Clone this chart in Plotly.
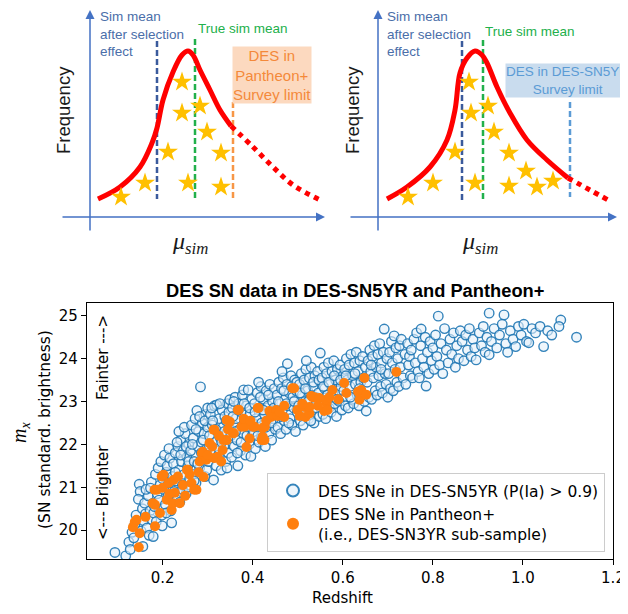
import plotly.graph_objects as go

# ---------------- Scatter data ----------------
sn5yr_z = [
 0.094,0.118,0.125,0.132,0.138,0.128,0.141,0.136,
 0.148,0.150,0.146,0.155,0.158,0.152,0.160,0.162,0.165,0.168,0.170,0.172,0.175,0.176,0.178,0.180,0.156,0.163,0.173,0.179,
 0.182,0.184,0.186,0.188,0.190,0.192,0.194,0.196,0.198,0.200,0.202,0.204,0.206,0.208,0.210,0.212,0.214,0.216,0.218,0.220,0.222,0.214,0.199,0.208,
 0.224,0.226,0.228,0.230,0.232,0.234,0.236,0.238,0.240,0.242,0.244,0.246,0.248,0.250,0.252,0.254,0.256,0.258,0.260,0.236,0.244,0.252,0.228,0.240,0.248,0.256,0.232,0.258,
 0.262,0.264,0.266,0.268,0.270,0.272,0.274,0.276,0.278,0.280,0.282,0.284,0.286,0.288,0.290,0.292,0.294,0.296,0.298,0.300,0.266,0.270,0.274,0.278,0.282,0.286,0.290,0.294,0.298,0.300,
 0.302,0.304,0.306,0.308,0.310,0.313,0.315,0.317,0.319,0.320,0.322,0.324,0.326,0.328,0.330,0.332,0.334,0.336,0.338,0.340,0.342,0.344,0.346,0.348,0.349,0.304,0.311,0.318,0.325,0.331,0.337,0.343,0.347,0.309,0.327,0.341,
 0.351,0.353,0.355,0.357,0.359,0.361,0.363,0.365,0.367,0.369,0.371,0.373,0.375,0.377,0.379,0.380,0.382,0.384,0.386,0.388,0.390,0.392,0.394,0.396,0.398,0.400,0.356,0.362,0.368,0.374,0.381,0.387,0.393,0.399,0.358,0.366,
 0.402,0.404,0.406,0.408,0.410,0.412,0.414,0.416,0.418,0.420,0.422,0.424,0.426,0.428,0.430,0.432,0.434,0.436,0.438,0.440,0.442,0.444,0.446,0.448,0.450,0.405,0.411,0.417,0.423,0.429,0.435,0.441,0.447,0.413,
 0.452,0.454,0.456,0.458,0.460,0.462,0.464,0.466,0.468,0.470,0.472,0.474,0.476,0.477,0.479,0.481,0.483,0.485,0.487,0.489,0.491,0.493,0.495,0.497,0.499,0.457,0.463,0.469,0.475,0.480,0.486,0.492,0.498,0.465,
 0.502,0.504,0.506,0.508,0.510,0.512,0.514,0.516,0.518,0.520,0.522,0.524,0.526,0.528,0.530,0.532,0.534,0.536,0.538,0.540,0.542,0.544,0.546,0.548,0.550,0.505,0.511,0.517,0.523,0.529,0.535,0.541,0.547,0.519,
 0.552,0.554,0.556,0.558,0.560,0.562,0.564,0.566,0.568,0.570,0.572,0.574,0.576,0.578,0.580,0.582,0.584,0.586,0.588,0.590,0.592,0.594,0.596,0.598,0.600,0.557,0.563,0.569,0.575,0.581,0.587,0.595,
 0.602,0.604,0.606,0.608,0.610,0.612,0.614,0.616,0.618,0.620,0.622,0.624,0.626,0.628,0.630,0.632,0.634,0.636,0.638,0.640,0.642,0.644,0.646,0.648,0.650,0.652,0.607,0.617,0.627,0.637,
 0.654,0.656,0.658,0.660,0.662,0.664,0.666,0.668,0.670,0.672,0.674,0.676,0.678,0.680,0.682,0.684,0.686,0.688,0.690,0.692,0.694,0.696,0.698,0.700,0.663,0.685,
 0.702,0.704,0.706,0.708,0.710,0.712,0.714,0.716,0.718,0.720,0.722,0.724,0.726,0.728,0.730,0.734,0.738,0.740,0.744,0.746,0.748,0.750,
 0.752,0.755,0.758,0.761,0.764,0.767,0.770,0.773,0.774,0.777,0.780,0.783,0.785,0.788,0.791,0.794,0.797,0.800,
 0.803,0.806,0.809,0.812,0.815,0.818,0.822,0.826,0.830,0.834,0.838,0.842,0.846,0.850,
 0.853,0.857,0.861,0.865,0.869,0.873,0.877,0.881,0.885,0.889,0.893,0.896,
 0.903,0.908,0.912,0.916,0.920,0.925,0.925,0.930,0.936,0.942,0.948,0.954,0.958,0.962,0.966,0.972,
 0.978,0.984,0.990,0.996,1.002,1.008,1.013,1.020,1.028,1.038,1.046,1.055,1.064,1.084,1.080,1.119,
]
sn5yr_mx = [
 19.48,19.40,19.72,19.95,20.12,19.55,20.35,19.82,
 21.07,20.90,20.72,20.50,20.22,19.98,20.63,20.38,20.05,20.80,19.88,20.45,21.12,20.25,20.62,20.40,19.62,20.95,20.98,19.85,
 20.55,21.30,20.20,20.85,21.45,20.70,21.05,21.60,20.35,21.20,20.95,21.75,20.60,21.35,21.50,20.80,21.10,21.68,20.45,20.17,21.25,21.90,20.10,20.40,
 21.55,20.90,21.80,21.15,20.70,21.95,21.40,20.65,22.10,21.60,21.05,21.85,21.30,22.25,20.85,21.70,21.50,22.00,21.20,22.30,20.95,21.95,21.35,21.75,22.40,21.00,22.05,21.60,
 21.85,22.45,21.30,22.15,21.60,22.60,21.10,22.79,21.95,22.30,21.45,23.34,22.05,22.50,21.70,22.25,21.25,22.70,21.90,22.40,22.00,21.15,22.35,21.55,22.65,21.80,22.10,22.55,21.40,22.85,
 21.60,22.20,22.70,21.85,22.45,21.17,22.90,22.05,21.50,22.92,22.30,21.75,22.60,22.15,21.40,22.80,22.40,21.95,22.65,21.60,22.25,22.95,21.80,22.50,23.04,21.95,22.55,22.35,21.90,22.05,22.30,21.45,22.75,22.85,22.95,22.55,
 22.20,21.70,22.85,22.45,21.95,23.10,22.60,22.10,21.50,22.95,22.35,21.85,22.75,23.15,22.25,23.27,22.55,21.75,22.90,22.40,23.27,22.00,22.70,21.72,23.05,22.50,22.65,22.30,22.80,22.05,22.95,22.20,22.85,22.20,23.00,21.80,
 22.30,22.95,21.90,22.60,23.20,22.40,22.05,22.85,23.35,22.50,22.15,23.05,22.70,21.95,23.25,22.55,22.90,22.25,23.40,22.75,22.10,23.00,22.60,23.30,22.35,22.75,22.20,23.10,22.80,22.40,23.15,22.50,22.85,23.45,
 22.70,23.15,22.40,23.45,22.95,22.25,23.30,22.80,23.55,22.55,23.05,22.35,23.40,23.88,22.90,23.20,22.60,23.60,22.45,23.10,22.85,23.50,22.30,23.25,22.75,23.00,22.65,23.25,22.95,22.50,23.35,23.00,23.45,23.70,
 22.90,23.40,22.55,23.65,23.15,22.45,23.50,23.00,23.75,22.70,23.25,22.60,23.55,23.05,23.80,22.80,23.35,22.50,23.60,23.10,22.85,23.70,23.20,22.65,24.13,23.20,22.75,23.30,23.00,22.55,23.45,22.95,23.50,23.95,
 23.05,23.55,22.70,23.80,23.30,22.60,23.65,23.15,23.90,22.85,23.40,22.75,23.70,23.20,23.95,22.95,23.50,22.65,23.75,23.25,23.00,23.85,23.35,22.80,23.60,23.35,22.90,23.45,23.10,23.60,23.05,23.50,
 23.25,23.75,22.90,24.00,23.50,22.85,23.85,23.35,24.10,23.05,23.60,22.95,23.90,23.40,24.15,23.15,23.70,22.90,23.95,23.45,23.20,24.05,23.55,23.00,23.80,22.78,23.60,23.10,23.65,23.30,
 23.45,23.95,23.10,24.20,23.70,23.05,24.05,23.55,24.30,23.25,23.80,23.15,24.10,23.60,24.35,23.35,23.90,23.20,24.15,24.69,23.65,23.40,24.00,23.10,23.85,23.75,
 23.65,24.15,23.30,24.40,23.90,23.25,24.53,23.75,24.25,23.45,24.00,23.35,24.30,23.80,24.45,23.55,24.10,23.40,24.35,23.85,24.05,23.60,
 24.20,23.55,24.45,23.90,24.60,23.70,23.55,24.30,24.69,24.00,23.80,24.50,23.36,24.15,23.65,24.40,23.95,24.25,
 23.75,24.55,24.05,24.99,23.85,24.35,23.65,24.70,24.20,23.90,24.45,24.10,24.60,23.80,
 24.30,24.00,24.65,24.40,23.95,24.55,24.20,24.70,24.05,24.45,24.25,23.97,
 24.60,24.30,24.75,24.15,24.50,25.06,24.09,24.40,24.70,24.25,24.55,24.80,25.02,24.35,24.15,24.65,
 24.45,24.28,24.75,24.55,24.80,24.40,24.37,24.70,24.60,24.75,24.28,24.65,24.55,24.90,24.75,24.50,
]

pantheon_z = [
 0.134,0.138,0.142,0.147,0.149,0.162,0.178,0.182,0.183,0.183,0.187,0.194,0.198,0.200,0.202,0.209,0.213,0.220,0.222,0.224,
 0.227,0.234,0.238,0.254,0.256,0.264,0.270,0.275,0.282,0.287,0.289,0.291,0.297,0.304,0.313,0.315,0.315,0.322,0.333,0.335,
 0.342,0.342,0.349,0.356,0.358,0.367,0.369,0.375,0.382,0.386,0.393,0.400,0.404,0.411,0.413,0.420,0.422,0.422,0.426,0.427,
 0.437,0.441,0.452,0.455,0.470,0.488,0.492,0.499,0.504,0.515,0.517,0.526,0.526,0.530,0.533,0.537,0.548,0.559,0.564,0.564,
 0.566,0.577,0.603,0.608,0.634,0.637,0.641,0.648,0.652,0.719,
 0.215,0.245,0.260,0.300,0.310,0.325,0.345,0.330,0.250,0.280,0.380,0.395,0.430,0.460,0.470,0.510,0.545,0.570,0.590,
]
pantheon_mx = [
 20.07,20.19,20.24,19.60,19.93,20.31,20.63,20.94,20.09,20.59,20.94,20.40,21.25,20.99,21.29,20.71,21.10,20.47,20.63,21.17,
 20.87,21.25,20.63,21.41,21.41,21.10,20.94,20.94,21.60,21.79,21.83,21.24,21.64,22.03,22.34,21.68,22.34,21.71,21.87,22.10,
 22.10,22.57,22.53,22.26,22.26,22.80,22.81,22.41,22.41,21.94,22.14,22.41,22.41,22.85,22.85,22.10,22.18,22.38,22.10,22.41,
 22.78,22.64,22.80,22.66,22.64,23.31,23.31,22.80,22.66,22.87,22.64,22.72,22.87,23.13,23.10,23.10,23.08,22.78,22.97,23.04,
 22.80,23.27,23.43,23.20,23.23,23.04,23.27,23.55,23.16,23.69,
 20.85,21.05,21.30,21.75,21.95,22.20,22.35,21.60,20.80,21.35,22.60,22.55,22.55,22.75,22.90,22.95,22.90,23.10,23.05,
]

x_ticks = [0.2, 0.4, 0.6, 0.8, 1.0, 1.2]
y_ticks = [20, 21, 22, 23, 24, 25]
legend_names = ["DES SNe in DES-SN5YR (P(Ia) > 0.9)",
                "DES SNe in Pantheon+<br>(i.e., DES-SN3YR sub-sample)"]

# ---------------- Schematic panels (sketch coordinates) ----------------
left_curve_x = [98, 120, 140, 152, 157, 163, 173, 182, 188, 193, 200, 210, 220, 231]
left_curve_y = [199, 187, 167, 143, 128, 100, 72, 55, 51, 55, 70, 90, 110, 126]
left_tail_x = [231, 253, 273, 293, 320]
left_tail_y = [126, 147, 167, 185, 200]
left_stars_x = [121, 145, 168, 182, 182, 188, 200, 207, 221, 221]
left_stars_y = [197, 183, 152, 82, 113, 183, 106, 132, 153, 187]
left_lines = {"sel": (157, 41, 199), "true": (195, 39, 200), "limit": (233, 102, 199)}

right_curve_x = [387, 407, 430, 447, 455, 460, 467, 475, 482, 487, 497, 510, 527, 547, 568]
right_curve_y = [199, 187, 167, 140, 110, 73, 58, 51, 55, 63, 87, 113, 140, 160, 178]
right_tail_x = [568, 590, 608]
right_tail_y = [178, 190, 200]
right_stars_x = [408, 433, 455, 469, 471, 475, 488, 494, 509, 509, 526, 537, 553]
right_stars_y = [197, 183, 152, 82, 113, 183, 106, 132, 153, 186, 171, 187, 181]
right_lines = {"sel": (462, 41, 200), "true": (483, 40, 200), "limit": (570, 102, 197)}

line_colors = {"sel": "#3a5a9c", "true": "#22b04b", "limit_l": "#f79646", "limit_r": "#5b9bd5"}

# page has an 8px body margin: draw a slightly smaller figure and offset coordinates
OFF = 8
W, H = 628 - OFF, 614 - OFF

fig = go.Figure()

for cx, cy, tx, ty, sx, sy, lines, lim in [
    (left_curve_x, left_curve_y, left_tail_x, left_tail_y, left_stars_x, left_stars_y, left_lines, "limit_l"),
    (right_curve_x, right_curve_y, right_tail_x, right_tail_y, right_stars_x, right_stars_y, right_lines, "limit_r"),
]:
    for key, (lx, y0, y1) in lines.items():
        col = line_colors[lim] if key == "limit" else line_colors[key]
        fig.add_trace(go.Scatter(x=[lx, lx], y=[y0, y1], mode="lines", xaxis="x2", yaxis="y2",
                                 line=dict(color=col, width=2.5, dash="6px,3px"),
                                 showlegend=False, hoverinfo="skip"))
    fig.add_trace(go.Scatter(x=cx, y=cy, mode="lines", xaxis="x2", yaxis="y2",
                             line=dict(color="#ff0000", width=5, shape="spline"),
                             showlegend=False, hoverinfo="skip"))
    fig.add_trace(go.Scatter(x=tx, y=ty, mode="lines", xaxis="x2", yaxis="y2",
                             line=dict(color="#ff0000", width=5, dash="5px,5px", shape="spline"),
                             showlegend=False, hoverinfo="skip"))
    fig.add_trace(go.Scatter(x=sx, y=sy, mode="markers", xaxis="x2", yaxis="y2",
                             marker=dict(symbol="star", size=15, color="#ffc000", line=dict(width=0)),
                             showlegend=False, hoverinfo="skip"))

fig.add_trace(go.Scatter(x=sn5yr_z, y=sn5yr_mx, mode="markers", name=legend_names[0],
                         marker=dict(symbol="circle", size=9.5, color="rgba(228,240,250,0.6)",
                                     line=dict(color="rgba(31,119,180,0.9)", width=1.4))))
fig.add_trace(go.Scatter(x=pantheon_z, y=pantheon_mx, mode="markers", name=legend_names[1],
                         marker=dict(symbol="circle", size=10, color="#ff7f0e", line=dict(width=0))))

ann = []
axis_blue = "#4472c4"
for (hx, hy, tx0, ty0) in [(90, 10, 90, 232), (325, 217, 61, 217), (378, 10, 378, 232), (617, 217, 349, 217)]:
    ann.append(dict(x=hx, y=hy, ax=tx0, ay=ty0, xref="x2", yref="y2", axref="x2", ayref="y2",
                    text="", showarrow=True, arrowhead=2, arrowsize=1.2, arrowwidth=1.5,
                    arrowcolor=axis_blue, standoff=0, startstandoff=0))
for fx, mx in [(63, 190), (352, 480)]:
    ann.append(dict(x=fx, y=110, xref="x2", yref="y2", xanchor="center", yanchor="middle",
                    text="Frequency", textangle=-90, showarrow=False,
                    font=dict(family="Liberation Sans", size=18.5, color="#1a1a1a")))
    ann.append(dict(x=mx, y=243, xref="x2", yref="y2", xanchor="center", yanchor="middle",
                    text="<i>μ<sub>sim</sub></i>", showarrow=False,
                    font=dict(family="Liberation Serif", size=24, color="#1a1a1a")))
for sx0 in [99, 386]:
    ann.append(dict(x=sx0, y=8, xref="x2", yref="y2", xanchor="left", yanchor="top", align="left",
                    text="Sim mean<br>after selection<br>effect", showarrow=False, borderpad=0,
                    font=dict(family="Liberation Sans", size=13.5, color="#4a6ea9")))
ann.append(dict(x=196, y=28, xref="x2", yref="y2", xanchor="left", yanchor="middle",
                text="True sim mean", showarrow=False,
                font=dict(family="Liberation Sans", size=13.5, color="#22b04b")))
ann.append(dict(x=483, y=31, xref="x2", yref="y2", xanchor="left", yanchor="middle",
                text="True sim mean", showarrow=False,
                font=dict(family="Liberation Sans", size=13.5, color="#22b04b")))
ann.append(dict(x=272, y=75, xref="x2", yref="y2", xanchor="center", yanchor="middle",
                text="DES in<br>Pantheon+<br>Survey limit", showarrow=False,
                bgcolor="#fcd9bf", borderpad=0,
                font=dict(family="Liberation Sans", size=15, color="#f4893a")))
ann.append(dict(x=567, y=80, xref="x2", yref="y2", xanchor="center", yanchor="middle",
                text="DES in DES-SN5YR<br>Survey limit", showarrow=False,
                bgcolor="#c9dcee", borderpad=0,
                font=dict(family="Liberation Sans", size=13.5, color="#5b9bd5")))


def paper_text(px, py, text, font, angle=0):
    return dict(x=(px - OFF) / W, y=(614 - py) / H, xref="paper", yref="paper", showarrow=False,
                xanchor="center", yanchor="middle", textangle=angle, text=text, font=font)


ann.append(paper_text(355, 290, "<b>DES SN data in DES-SN5YR and Pantheon+</b>",
                      dict(family="Liberation Sans", size=18.3, color="black")))
ann.append(paper_text(20, 433, "<i>m<sub>x</sub></i>",
                      dict(family="Liberation Serif", size=20, color="black"), -90))
ann.append(paper_text(45, 430, "(SN standard. brightness)",
                      dict(family="DejaVu Sans", size=15.5, color="black"), -90))
ann.append(paper_text(103, 358, "Fainter --->", dict(family="DejaVu Sans", size=15, color="black"), -90))
ann.append(paper_text(103, 493, "<--- Brighter", dict(family="DejaVu Sans", size=15, color="black"), -90))
ann.append(paper_text(342, 598, "Redshift", dict(family="DejaVu Sans", size=15, color="black")))

tick_font = dict(family="DejaVu Sans", size=15, color="black")
fig.update_layout(
    width=W, height=H, margin=dict(l=0, r=0, t=0, b=0, autoexpand=False),
    paper_bgcolor="white", plot_bgcolor="white",
    annotations=ann,
    xaxis=dict(domain=[(87 - OFF) / W, (613 - OFF) / W], range=[0.032, 1.2], anchor="y", automargin=False,
               tickmode="array", tickvals=x_ticks, ticktext=[f"{v:.1f}" for v in x_ticks],
               ticks="outside", ticklen=5, tickcolor="black", tickfont=tick_font,
               showline=True, linecolor="black", linewidth=1.2, mirror=True, showgrid=False, zeroline=False),
    yaxis=dict(domain=[(614 - 559.3) / H, (614 - 303.3) / H], range=[19.32, 25.29], anchor="x",
               automargin=False,
               tickmode="array", tickvals=y_ticks, ticktext=[str(v) for v in y_ticks],
               ticks="outside", ticklen=5, tickcolor="black", tickfont=tick_font,
               showline=True, linecolor="black", linewidth=1.2, mirror=True, showgrid=False, zeroline=False),
    xaxis2=dict(domain=[0, 1], range=[OFF, 628], visible=False, anchor="y2", automargin=False),
    yaxis2=dict(domain=[1 - (262 - OFF) / H, 1], range=[262, OFF], visible=False, anchor="x2",
                automargin=False),
    legend=dict(x=(605 - OFF) / W, y=(614 - 552) / H, xanchor="right", yanchor="bottom",
                bgcolor="rgba(255,255,255,0.85)", bordercolor="#cccccc", borderwidth=1,
                font=dict(family="DejaVu Sans", size=15.5, color="black"), itemsizing="constant",
                itemwidth=40, tracegroupgap=2),
)

fig.write_html("out.html")
